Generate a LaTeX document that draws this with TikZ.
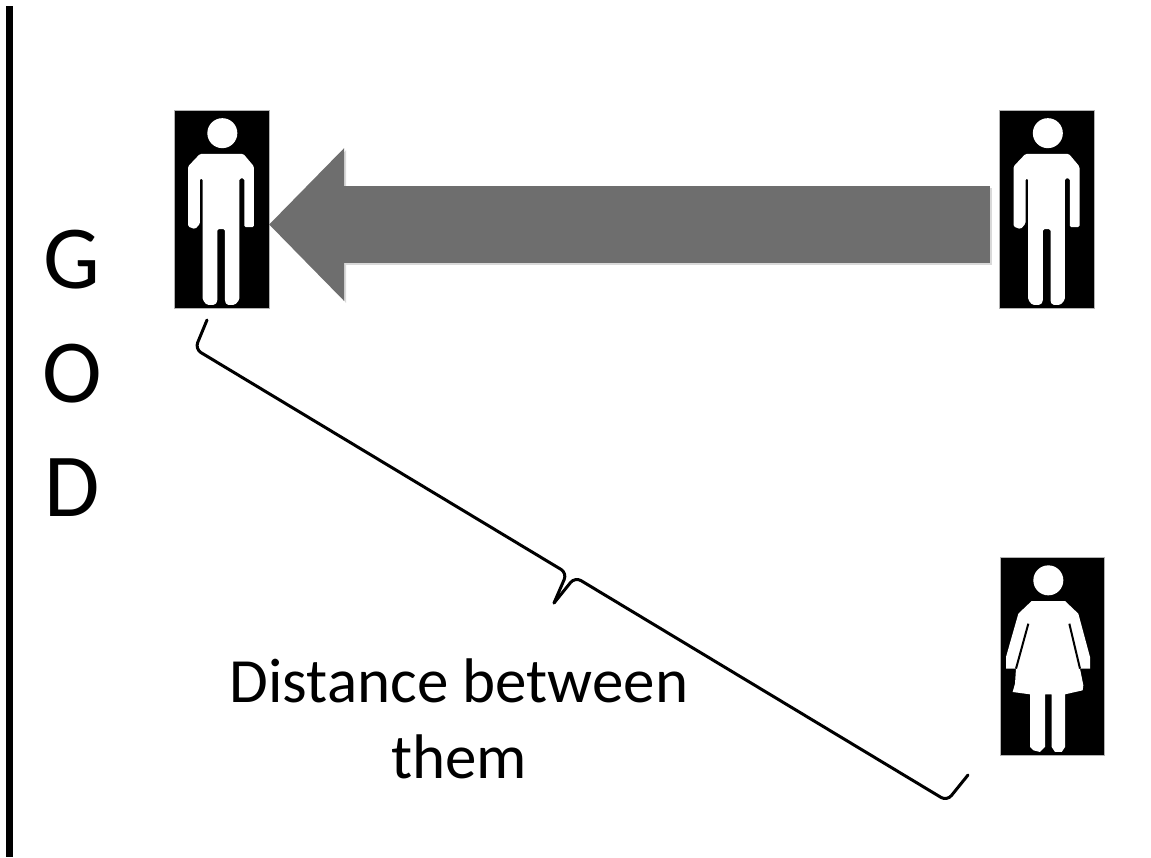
\documentclass[tikz,border=0pt]{standalone}
\usepackage{fontspec}
\setmainfont{Carlito}
\usetikzlibrary{positioning, arrows.meta}

\definecolor{arrowgray}{HTML}{6E6E6E}
\tikzset{
	iconbox/.style={fill=black, draw=black!30, line width=0.6pt, minimum width=95pt, minimum height=198pt, inner sep=0pt, outer sep=0pt},
	bigletter/.style={font=\fontsize{90}{90}\selectfont},
	caption/.style={font=\fontsize{63}{76}\selectfont, align=center},
	bracket/.style={line width=3pt, rounded corners=7pt, line cap=round},
	bigarrow/.style={-{Triangle[length=75pt, width=148pt]}, line width=77pt, color=arrowgray},
	arrowshade/.style={color=black!15},
	maleicon/.pic={
		\fill[white, x=0.3333pt, y=-0.3333pt, rounded corners=1.5pt] (145,68) circle (45)
			(78,130) -- (208,130) -- (240,168) -- (240,350) -- (211,350) -- (211,204) -- (196,204)
			-- (196,568) -- (183,583) -- (158,583) -- (153,573) -- (153,356) -- (130,356) -- (130,573)
			-- (123,583) -- (98,583) -- (86,568) -- (86,204) -- (78,204) -- (78,340) -- (63,356)
			-- (42,348) -- (42,168) -- cycle;
	},
	femaleicon/.pic={
		\begin{scope}[x=0.3333pt, y=-0.3333pt]
		\fill[white] (145,70) circle (45)
			(95,132) -- (195,132) -- (235,170) -- (270,300) -- (270,335) -- (240,335) -- (250,385)
			-- (248,400) -- (195,412) -- (195,570) -- (185,585) -- (165,585) -- (155,570) -- (155,412)
			-- (135,412) -- (135,570) -- (120,585) -- (100,580) -- (90,570) -- (90,412) -- (38,405)
			-- (45,380) -- (48,335) -- (18,335) -- (18,300) -- (55,170) -- cycle;
		\draw[black, line width=2pt] (208,200) -- (240,335) (85,200) -- (48,335);
		\end{scope}
	}
}

\begin{document}
\begin{tikzpicture}[x=1pt, y=-1pt]
	\useasboundingbox (0,0) rectangle (1151,857);

	% Wall on the left
	\fill[black] (6,6) rectangle (12.5,857);

	% Letters
	\node[bigletter] (letterg) at (72,260) {G};
	\node[bigletter] (lettero) at (72,374) {O};
	\node[bigletter] (letterd) at (72,488) {D};

	% Figures
	\node[iconbox] (manleft) at (221.5,209.5) {};
	\node[iconbox] (manright) at (1047,209.5) {};
	\node[iconbox, minimum width=104pt] (woman) at (1052,656) {};
	\pic at (manleft.north west) {maleicon};
	\pic at (manright.north west) {maleicon};
	\pic at (woman.north west) {femaleicon};

	% Arrow between the men
	\draw[bigarrow, arrowshade, shorten <=8pt] ([xshift=0pt, yshift=-17pt]manright.west) -- ([xshift=2pt, yshift=-17pt]manleft.east);
	\draw[bigarrow, shorten <=10pt] ([yshift=-15pt]manright.west) -- ([yshift=-15pt]manleft.east);

	% Bracket
	\draw[bracket] (207,320) -- (195,349) -- (567,573) -- (554,603);
	\draw[bracket] (554,603) -- (575,577) -- (947,801) -- (968,775);

	% Label
	\node[caption] (distlabel) at (459,719) {Distance between\\them};
\end{tikzpicture}
\end{document}
